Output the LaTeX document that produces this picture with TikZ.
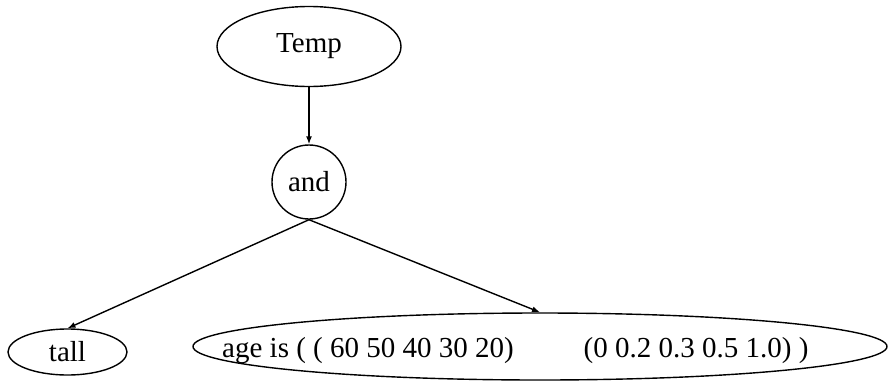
\documentclass[tikz,border=0pt]{standalone}
\usepackage{fontspec}
\setmainfont{Liberation Serif}
\usepackage{tikz}
\usetikzlibrary{shapes.geometric}
\usetikzlibrary{arrows.meta}

\begin{document}
\begin{tikzpicture}[x=1pt,y=-1pt,
  treenode/.style={draw,line width=1.4pt,inner sep=0pt,font=\fontsize{29}{33}\selectfont},
  oval/.style={treenode,ellipse},
  link/.style={-{Latex[length=8pt,width=6pt]},line width=1.4pt}]
\useasboundingbox (0,0) rectangle (888,383);

\node[oval,minimum width=184pt,minimum height=80pt] (temp) at (309,46.5) {Temp};
\node[treenode,circle,minimum size=74pt] (and) at (309,182) {and};
\node[oval,minimum width=119pt,minimum height=46pt] (tall) at (67.5,352) {tall};
\node[oval,minimum width=694pt,minimum height=67pt] (age) at (540,346.5) {};
\node[font=\fontsize{29}{33}\selectfont,inner sep=0pt,anchor=base west] (agetext) at (222,357)
  {age is ( ( 60 50 40 30 20)\hspace{70pt}(0 0.2 0.3 0.5 1.0) )};

\draw[link] (temp) -- (and);
\draw[link] (and.south) -- (tall.north);
\draw[link] (and.south) -- (age.north);

\end{tikzpicture}
\end{document}
